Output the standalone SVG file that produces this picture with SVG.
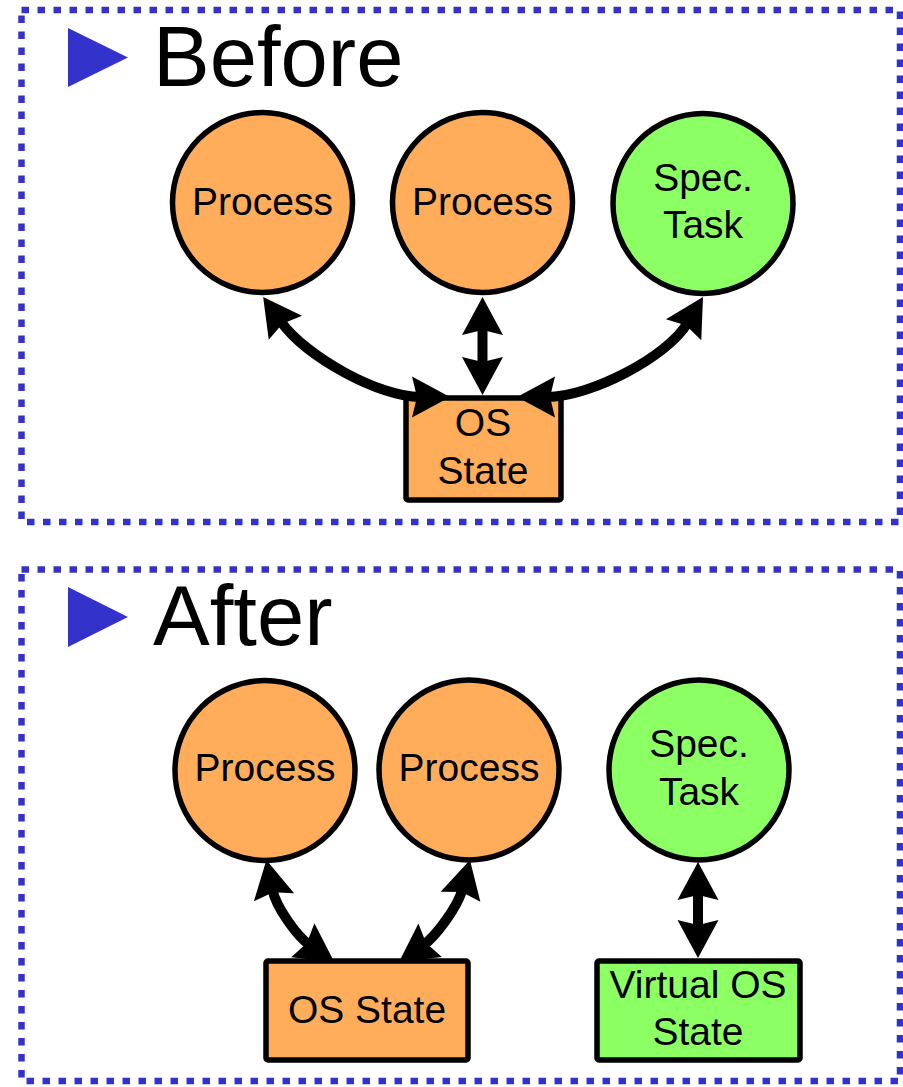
<svg xmlns="http://www.w3.org/2000/svg" width="903" height="1087" viewBox="0 0 903 1087">
  <style>
    .panel { fill: none; stroke: #3333CC; stroke-width: 6.5; stroke-dasharray: 7.5 8.5; }
    .bullet { fill: #3333CC; }
    .title { font-family: "Liberation Sans", Arial, sans-serif; font-size: 85px; fill: #000; }
    .label { font-family: "Liberation Sans", Arial, sans-serif; font-size: 39px; fill: #000; text-anchor: middle; }
    .orange { fill: #FFAD5B; stroke: #000; stroke-width: 5.5; }
    .green { fill: #8CFF64; stroke: #000; stroke-width: 5.5; }
    .link { fill: none; stroke: #000; stroke-width: 10; marker-start: url(#head); marker-end: url(#head); }
  </style>
  <defs>
    <!-- stealth-style arrowhead; the tip sits 30 units past the path end -->
    <marker id="head" markerUnits="userSpaceOnUse" orient="auto-start-reverse" refX="0" refY="0" markerWidth="60" markerHeight="60" overflow="visible">
      <path d="M30,0 L-8,-20.5 L-3,0 L-8,20.5 Z" fill="#000"/>
    </marker>
  </defs>

  <rect width="903" height="1087" fill="#fff"/>

  <!-- Before panel -->
  <g id="panel-before">
    <rect class="panel" x="21.5" y="10" width="878.5" height="512"/>
    <polygon class="bullet" points="68,28 68,87 128,57.5"/>
    <text class="title" x="153" y="86">Before</text>
  </g>

  <g id="before-process-1">
    <circle class="orange" cx="262.5" cy="202.5" r="90"/>
    <text class="label" x="262.5" y="215">Process</text>
  </g>
  <g id="before-process-2">
    <circle class="orange" cx="482.5" cy="202.5" r="90"/>
    <text class="label" x="482.5" y="215">Process</text>
  </g>
  <g id="before-spec-task">
    <circle class="green" cx="703" cy="203.5" r="90"/>
    <text class="label" x="703" y="191">Spec.</text>
    <text class="label" x="703" y="238">Task</text>
  </g>
  <g id="before-os-state">
    <rect class="orange" x="406" y="398" width="155" height="102" rx="2"/>
    <text class="label" x="483" y="436">OS</text>
    <text class="label" x="483" y="484">State</text>
  </g>

  <!-- After panel -->
  <g id="panel-after">
    <rect class="panel" x="21.5" y="569.5" width="878.5" height="511.5"/>
    <polygon class="bullet" points="68,587 68,647 128,617"/>
    <text class="title" x="153" y="645">After</text>
  </g>

  <g id="after-process-1">
    <circle class="orange" cx="265" cy="770.5" r="90"/>
    <text class="label" x="265" y="781">Process</text>
  </g>
  <g id="after-process-2">
    <circle class="orange" cx="469" cy="770" r="90"/>
    <text class="label" x="469" y="781">Process</text>
  </g>
  <g id="after-spec-task">
    <circle class="green" cx="699" cy="770" r="90"/>
    <text class="label" x="699" y="757">Spec.</text>
    <text class="label" x="699" y="805">Task</text>
  </g>

  <!-- Connectors -->
  <g id="connectors">
    <path id="c-before-left" class="link" d="M280.7,321.3 C307,357.8 380,397 420,397"/>
    <path id="c-before-mid" class="link" d="M482.5,327 L482.5,365"/>
    <path id="c-before-right" class="link" d="M547,397 C590,397 667.3,357.2 687.7,322.8"/>
    <path id="c-after-left" class="link" d="M272.4,889.4 C276,907 297,936.3 309.4,944.8"/>
    <path id="c-after-right" class="link" d="M462.5,889 C458,906.5 435.9,936.2 423.6,944.8"/>
    <path id="c-after-virtual" class="link" d="M698,892 L698,928"/>
  </g>

  <!-- After-panel boxes sit over the connector tips -->
  <g id="after-os-state">
    <rect class="orange" x="266" y="961" width="202" height="99" rx="2"/>
    <text class="label" x="367" y="1023">OS State</text>
  </g>
  <g id="after-virtual-os-state">
    <rect class="green" x="597" y="961" width="203" height="99" rx="2"/>
    <text class="label" x="698" y="998">Virtual OS</text>
    <text class="label" x="698" y="1045">State</text>
  </g>
</svg>
